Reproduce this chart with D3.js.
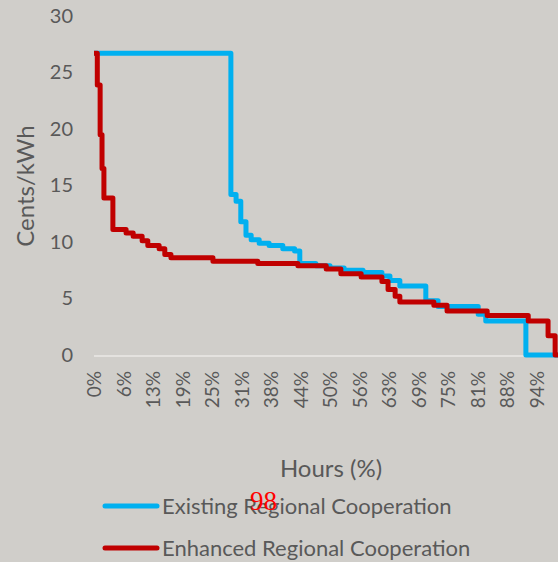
<!DOCTYPE html>
<html>
<head>
<meta charset="utf-8">
<script src="https://cdn.jsdelivr.net/npm/d3@7"></script>
<style>
  html, body { margin: 0; padding: 0; background: #d0ceca; }
  svg { display: block; }
  text { font-family: Lato, "Open Sans", sans-serif; fill: #595959; }
</style>
</head>
<body>
<svg id="chart" width="558" height="562"></svg>
<script>
// Price duration curves: share of hours (%) at which each price level starts
const existingHours = [0, 29.0, 30.1, 31.1, 32.2, 33.3, 35.0, 37.1, 40.0, 42.5, 43.6, 47.0, 50.0, 53.0, 57.0, 61.0, 62.7, 64.8, 70.3, 72.9, 81.4, 83.0, 91.5, 100];
const existingCents = [26.7, 14.2, 13.6, 11.8, 10.6, 10.2, 9.9, 9.7, 9.4, 9.2, 8.1, 7.9, 7.7, 7.5, 7.3, 7.0, 6.6, 6.1, 4.8, 4.3, 3.6, 3.0, 0, 0];

const enhancedHours = [0, 0.7, 1.3, 1.7, 2.1, 4.0, 6.8, 8.3, 10.2, 11.4, 13.8, 15.0, 16.3, 25.2, 34.7, 43.2, 49.2, 52.3, 56.6, 61.0, 62.3, 63.8, 64.8, 72.0, 74.8, 83.3, 92.0, 96.2, 97.7, 100];
const enhancedCents = [26.7, 23.9, 19.5, 16.5, 13.9, 11.1, 10.8, 10.5, 10.1, 9.7, 9.4, 8.9, 8.6, 8.3, 8.1, 7.9, 7.6, 7.2, 6.9, 6.5, 5.8, 5.2, 4.7, 4.4, 3.9, 3.5, 3.0, 1.7, 0, 0];

const xTickValues = [0, 6.25, 12.5, 18.75, 25, 31.25, 37.5, 43.75, 50, 56.25, 62.5, 68.75, 75, 81.25, 87.5, 93.75];
const xTickLabels = ["0%", "6%", "13%", "19%", "25%", "31%", "38%", "44%", "50%", "56%", "63%", "69%", "75%", "81%", "88%", "94%"];
const yTickValues = [0, 5, 10, 15, 20, 25, 30];

const seriesNames = ["Existing Regional Cooperation", "Enhanced Regional Cooperation"];
const seriesColors = ["#00b0f0", "#c00000"];

const svg = d3.select("#chart");

const x = d3.scaleLinear().domain([0, 100]).range([94, 566]);
const y = d3.scaleLinear().domain([0, 30]).range([355, 16]);

// Baseline at zero
svg.append("line")
  .attr("x1", x(0)).attr("x2", 558)
  .attr("y1", y(0) + 1).attr("y2", y(0) + 1)
  .attr("stroke", "#e4e2df").attr("stroke-width", 2);

// Y axis labels
const yAxis = d3.axisLeft(y).tickValues(yTickValues).tickSize(0).tickPadding(0);
const gy = svg.append("g").attr("transform", "translate(73,0)").call(yAxis);
gy.select(".domain").remove();
gy.selectAll("text")
  .style("font-family", "Lato, 'Open Sans', sans-serif")
  .style("font-size", "20px")
  .attr("fill", "#595959");

// X axis labels, rotated
const xAxis = d3.axisBottom(x).tickValues(xTickValues)
  .tickFormat((d, i) => xTickLabels[i]).tickSize(0).tickPadding(0);
const gx = svg.append("g").attr("transform", "translate(0,371)").call(xAxis);
gx.select(".domain").remove();
gx.selectAll("text")
  .style("font-family", "Lato, 'Open Sans', sans-serif")
  .style("font-size", "19px")
  .attr("fill", "#595959")
  .attr("transform", "rotate(-90)")
  .attr("text-anchor", "end")
  .attr("x", 0)
  .attr("y", 0)
  .attr("dy", "0.35em");

// Lines
const line = d3.line()
  .x(d => x(d[0]))
  .y(d => y(d[1]))
  .curve(d3.curveStepAfter);

const series = [
  d3.zip(existingHours, existingCents),
  d3.zip(enhancedHours, enhancedCents)
];

series.forEach((pts, i) => {
  svg.append("path")
    .datum(pts)
    .attr("d", line)
    .attr("fill", "none")
    .attr("stroke", seriesColors[i])
    .attr("stroke-width", 5)
    .attr("stroke-linejoin", "round");
});

// Axis titles
svg.append("text")
  .attr("transform", "translate(34,186) rotate(-90)")
  .attr("text-anchor", "middle")
  .style("font-size", "24px")
  .text("Cents/kWh");

svg.append("text")
  .attr("x", 331).attr("y", 477)
  .attr("text-anchor", "middle")
  .style("font-size", "24px")
  .text("Hours (%)");

// Legend
const legend = svg.append("g");
[506, 548].forEach((ly, i) => {
  legend.append("line")
    .attr("x1", 105).attr("x2", 157)
    .attr("y1", ly).attr("y2", ly)
    .attr("stroke", seriesColors[i])
    .attr("stroke-width", 5)
    .attr("stroke-linecap", "round");
  legend.append("text")
    .attr("x", 162).attr("y", ly + 8)
    .style("font-size", "22px")
    .text(seriesNames[i]);
});

// Page number
svg.append("text")
  .attr("x", 250).attr("y", 510)
  .style("font-family", "'Liberation Serif', 'DejaVu Serif', serif")
  .style("font-size", "27px")
  .style("fill", "#ff0000")
  .text("98");
</script>
</body>
</html>
